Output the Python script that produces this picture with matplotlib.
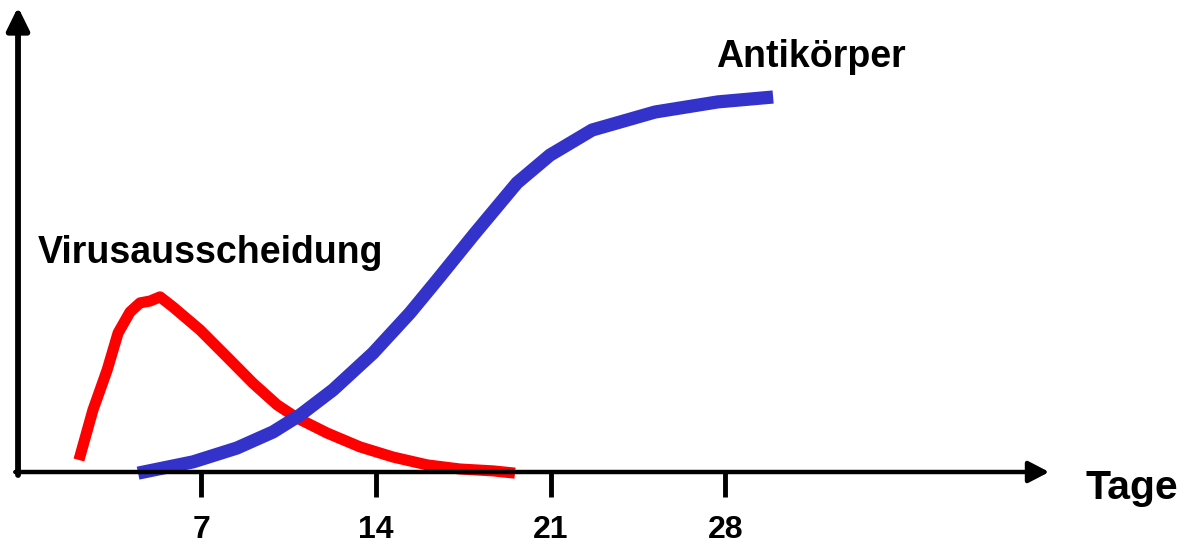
import matplotlib
matplotlib.use("Agg")
import matplotlib.pyplot as plt

# days on x, relative level on y
virus_days = [2.10, 2.66, 3.23, 3.67, 4.15, 4.55, 4.95, 5.35, 5.87, 6.95,
              8.03, 9.07, 10.04, 10.84, 12.04, 13.36, 14.68, 16.05, 17.37,
              18.69, 19.57]
virus_level = [3.2, 16.5, 27.2, 37.1, 42.7, 45.1, 45.6, 46.7, 44.0, 37.9,
               30.7, 23.7, 17.9, 14.4, 10.4, 6.7, 4.0, 1.9, 0.8,
               0.3, -0.3]

ab_days = [4.47, 6.67, 8.43, 9.88, 10.96, 12.28, 13.88, 15.36, 16.45,
           17.97, 19.65, 20.97, 22.66, 25.18, 27.70, 29.91]
ab_level = [-0.3, 2.7, 6.4, 10.7, 15.2, 21.9, 31.7, 42.4, 51.2,
            63.7, 77.1, 84.5, 91.2, 96.0, 98.7, 100.0]

tick_days = [7, 14, 21, 28]
tick_labels = ["7", "14", "21", "28"]

font = "Liberation Sans"

fig = plt.figure(figsize=(11.84, 5.46), dpi=100)
ax = fig.add_axes([0, 0, 1, 1])
ax.set_xlim(-1.062, 46.37)
ax.set_ylim(-19.73, 125.87)
ax.axis("off")

# axes with arrow heads
ax.annotate("", xy=(40.97, 0), xytext=(-0.45, 0),
            arrowprops=dict(arrowstyle="-|>,head_length=0.5,head_width=0.26",
                            mutation_scale=25, lw=3.2, color="black",
                            shrinkA=0, shrinkB=0))
ax.annotate("", xy=(-0.34, 124), xytext=(-0.34, -0.8),
            arrowprops=dict(arrowstyle="-|>,head_length=0.55,head_width=0.27",
                            mutation_scale=25, lw=4.2, color="black",
                            shrinkA=0, shrinkB=0))

ax.vlines(tick_days, -6.7, 0, color="black", lw=3.5)
for d, lab in zip(tick_days, tick_labels):
    ax.text(d, -15.5, lab, ha="center", va="center", fontsize=23,
            fontweight="bold", family=font)

ax.plot(virus_days, virus_level, color="#ff0000", lw=8,
        solid_capstyle="butt", solid_joinstyle="round")
ax.plot(ab_days, ab_level, color="#3333cc", lw=9.5,
        solid_capstyle="butt", solid_joinstyle="round")

ax.text((811 - 26.5) / 24.96, (472 - 57) / 3.75, "Antikörper", ha="center",
        va="center", fontsize=27, fontweight="bold", family=font)
ax.text((210 - 26.5) / 24.96, (472 - 253) / 3.75, "Virusausscheidung",
        ha="center", va="center", fontsize=27, fontweight="bold", family=font)
ax.text((1132 - 26.5) / 24.96, (472 - 488) / 3.75, "Tage", ha="center",
        va="center", fontsize=29.5, fontweight="bold", family=font)

fig.savefig("out.png", dpi=100)
